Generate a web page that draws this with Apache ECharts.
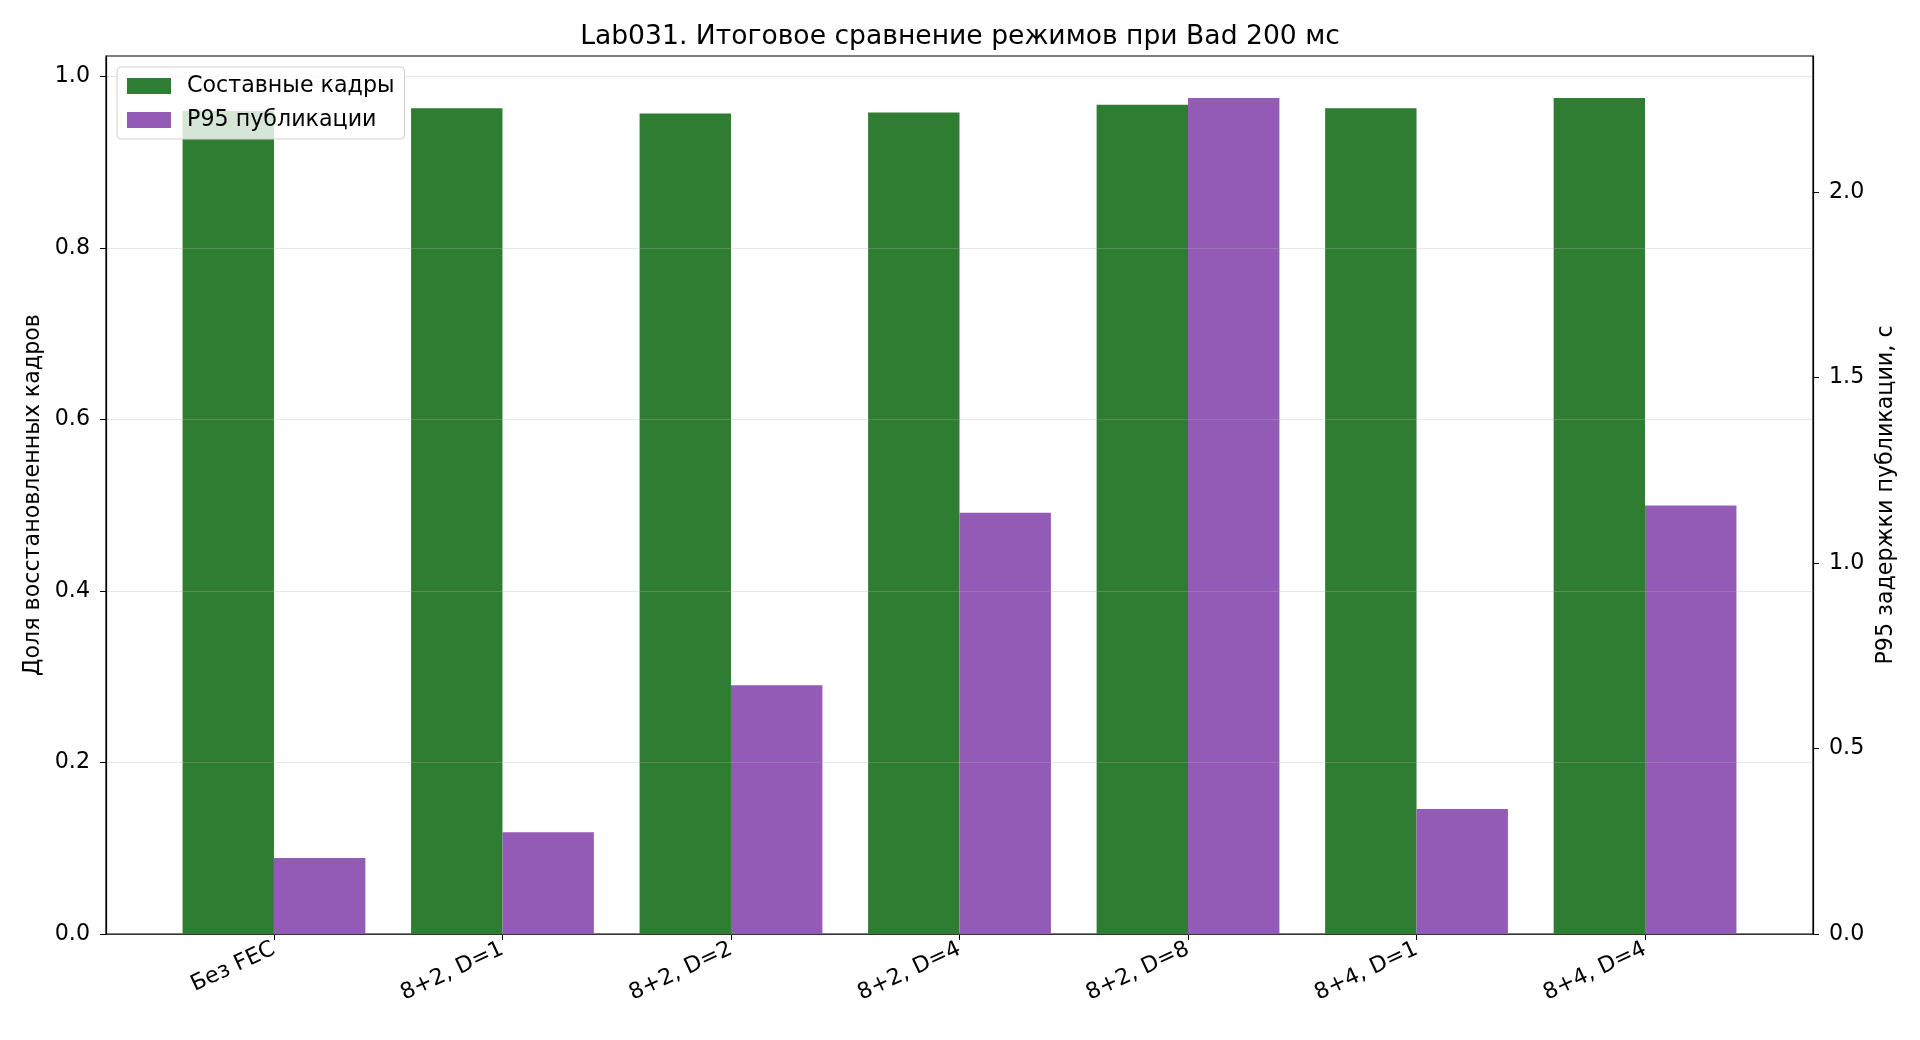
<!DOCTYPE html>
<html>
<head>
<meta charset="utf-8">
<script src="https://cdn.jsdelivr.net/npm/echarts@6/dist/echarts.min.js"></script>
<style>
  html, body { margin: 0; padding: 0; background: #fff; }
  #chart { width: 1920px; height: 1040px; }
</style>
</head>
<body>
<div id="chart"></div>
<script>
// data
var modes = ['Без FEC', '8+2, D=1', '8+2, D=2', '8+2, D=4', '8+2, D=8', '8+4, D=1', '8+4, D=4'];
var recovered = [0.960, 0.963, 0.957, 0.958, 0.967, 0.963, 0.975];
var p95 = [0.205, 0.274, 0.670, 1.135, 2.253, 0.337, 1.155];
var leftTicks = [0, 0.2, 0.4, 0.6, 0.8, 1.0];
var rightTicks = [0, 0.5, 1.0, 1.5, 2.0];

var FONT = 'DejaVu Sans';
var FS = 22.2;
var chart = echarts.init(document.getElementById('chart'));

var idx = modes.map(function (m, i) { return i; });

option = {
    animation: false,
    backgroundColor: '#fff',
    title: {
        text: 'Lab031. Итоговое сравнение режимов при Bad 200 мс',
        left: 'center',
        top: 19,
        textStyle: { fontFamily: FONT, fontSize: 26.6, fontWeight: 'normal', color: '#000' }
    },
    legend: {
        orient: 'vertical',
        left: 117,
        top: 67,
        padding: [8, 10, 8, 10],
        itemWidth: 44,
        itemHeight: 16,
        itemGap: 12,
        icon: 'rect',
        backgroundColor: 'rgba(255,255,255,0.8)',
        borderColor: '#d0d0d0',
        borderWidth: 1,
        borderRadius: 4,
        textStyle: { fontFamily: FONT, fontSize: FS, color: '#000', padding: [0, 0, 0, 11] },
        data: ['Составные кадры', 'P95 публикации']
    },
    grid: {
        left: 106, right: 107, top: 56, bottom: 106,
        show: true, borderColor: '#000', borderWidth: 1.2, backgroundColor: 'transparent'
    },
    xAxis: {
        type: 'value',
        min: -0.735,
        max: 6.735,
        splitLine: { show: false },
        axisLine: { show: true, lineStyle: { color: '#000', width: 1.2 } },
        axisTick: { show: true, customValues: idx, length: 6, lineStyle: { color: '#000' } },
        axisLabel: {
            customValues: idx,
            rotate: 25,
            margin: 14,
            fontFamily: FONT,
            fontSize: FS,
            color: '#000',
            formatter: function (v) { return modes[Math.round(v)]; }
        }
    },
    yAxis: [
        {
            type: 'value',
            min: 0,
            max: 1.024,
            interval: 0.2,
            z: 3,
            name: 'Доля восстановленных кадров',
            nameLocation: 'middle',
            nameGap: 59,
            nameTextStyle: { fontFamily: FONT, fontSize: FS, color: '#000' },
            axisLine: { show: true, onZero: false, lineStyle: { color: '#000', width: 1.2 } },
            axisTick: { show: true, length: 6, customValues: leftTicks, lineStyle: { color: '#000' } },
            axisLabel: {
                fontFamily: FONT, fontSize: FS, color: '#000', margin: 16,
                customValues: leftTicks,
                formatter: function (v) { return v.toFixed(1); }
            },
            splitLine: { show: true, lineStyle: { color: 'rgba(176,176,176,0.3)', width: 1.2 } }
        },
        {
            type: 'value',
            min: 0,
            max: 2.366,
            interval: 0.5,
            position: 'right',
            name: 'P95 задержки публикации, с',
            nameLocation: 'middle',
            nameGap: 62,
            nameRotate: 90,
            nameTextStyle: { fontFamily: FONT, fontSize: FS, color: '#000' },
            axisLine: { show: true, onZero: false, lineStyle: { color: '#000', width: 1.2 } },
            axisTick: { show: true, length: 6, customValues: rightTicks, lineStyle: { color: '#000' } },
            axisLabel: {
                fontFamily: FONT, fontSize: FS, color: '#000', margin: 16,
                customValues: rightTicks,
                formatter: function (v) { return v.toFixed(1); }
            },
            splitLine: { show: false }
        }
    ],
    series: [
        {
            name: 'Составные кадры',
            type: 'bar',
            yAxisIndex: 0,
            barWidth: 91.4,
            barGap: '0%',
            itemStyle: { color: '#2e7d32' },
            data: recovered.map(function (v, i) { return [i, v]; })
        },
        {
            name: 'P95 публикации',
            type: 'bar',
            yAxisIndex: 1,
            barWidth: 91.4,
            barGap: '0%',
            itemStyle: { color: '#935bb5' },
            data: p95.map(function (v, i) { return [i, v]; })
        }
    ]
};

chart.setOption(option);
</script>
</body>
</html>
